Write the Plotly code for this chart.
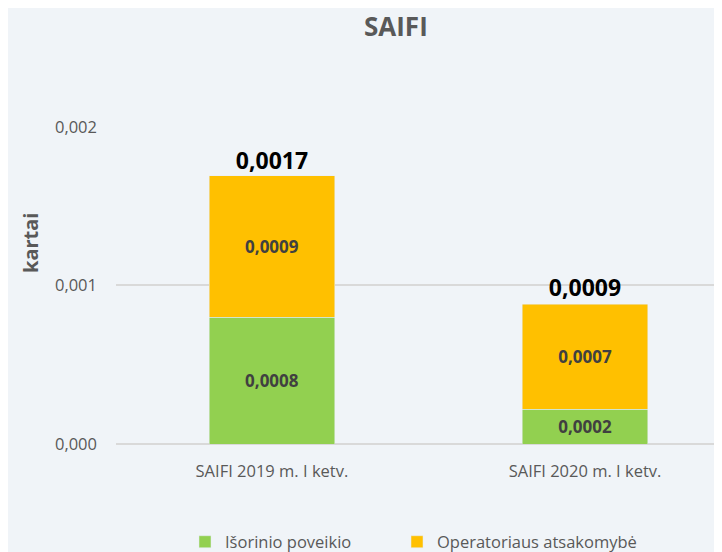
import plotly.graph_objects as go

categories = ["SAIFI 2019 m. I ketv.", "SAIFI 2020 m. I ketv."]
external = [0.00080, 0.00022]
operator = [0.00089, 0.00066]
totals = [0.0017, 0.0009]
series_names = ["Išorinio poveikio", "Operatoriaus atsakomybė"]
tick_vals = [0.0, 0.001, 0.002]
tick_text = ["0,000", "0,001", "0,002"]
y_title = "kartai"
chart_title = "SAIFI"

GREEN = "#92D050"
ORANGE = "#FFC000"
BG = "#F0F4F8"
GREY = "#595959"
FONT = "Open Sans"

# the page body adds an 8px offset; layout is compensated for it
OFF = 8
W, H = 722, 552
L, R, T, B = 116 - OFF, 0, 126 - OFF, H - (444 - OFF)
PW, PH = W - L - R, H - T - B

fig = go.Figure()
for i, (vals, name, col) in enumerate([(external, series_names[0], GREEN),
                                       (operator, series_names[1], ORANGE)]):
    fig.add_trace(go.Bar(
        x=categories, y=vals, name=name, marker_color=col,
        width=0.4, texttemplate="<b>%{y:.4f}</b>", textposition="inside",
        insidetextanchor="middle", legend="legend" if i == 0 else "legend2",
        textfont=dict(family=FONT, size=17, color="#404040"),
    ))
fig.add_trace(go.Scatter(
    x=categories, y=totals, mode="text", texttemplate="<b>%{y:.4f}</b>",
    textposition="top center", showlegend=False, cliponaxis=False,
    textfont=dict(family=FONT, size=23, color="#000000"), hoverinfo="skip",
))

fig.add_annotation(
    text="<b>" + y_title + "</b>", textangle=-90, xref="paper", yref="paper",
    x=-(L - (30 - OFF)) / PW, y=(H - B - (243 - OFF)) / PH,
    xanchor="center", yanchor="middle", showarrow=False,
    font=dict(family=FONT, size=20, color=GREY),
)
fig.add_annotation(
    text="<b>" + chart_title + "</b>", xref="paper", yref="paper",
    x=((396 - OFF) - L) / PW, y=(H - B - (26 - OFF)) / PH,
    xanchor="center", yanchor="middle", showarrow=False,
    font=dict(family=FONT, size=26, color=GREY),
)

leg_common = dict(orientation="h", xref="container", yref="container",
                  y=(H - (542 - OFF)) / H, xanchor="left", yanchor="middle",
                  itemwidth=30, bgcolor="rgba(0,0,0,0)",
                  font=dict(family=FONT, size=16.5, color=GREY))

fig.update_layout(
    barmode="stack",
    width=W, height=H,
    paper_bgcolor=BG, plot_bgcolor=BG,
    separators=", ",
    margin=dict(l=L, r=R, t=T, b=B, autoexpand=False),
    xaxis=dict(range=[-0.498, 1.463], showgrid=False, showline=False, ticks="",
               automargin=False, ticklabelstandoff=15,
               tickfont=dict(family=FONT, size=16.5, color=GREY)),
    yaxis=dict(range=[0, 0.002005], tickvals=tick_vals, ticktext=tick_text,
               gridcolor="#D9D9D9", gridwidth=1.5, zeroline=True,
               zerolinecolor="#D9D9D9", zerolinewidth=1.5, automargin=False,
               tickfont=dict(family=FONT, size=16.5, color=GREY), ticklabelstandoff=18),
    legend=dict(x=(185 - OFF) / W, **leg_common),
    legend2=dict(x=(397 - OFF) / W, **leg_common),
)

fig.write_html("out.html")
